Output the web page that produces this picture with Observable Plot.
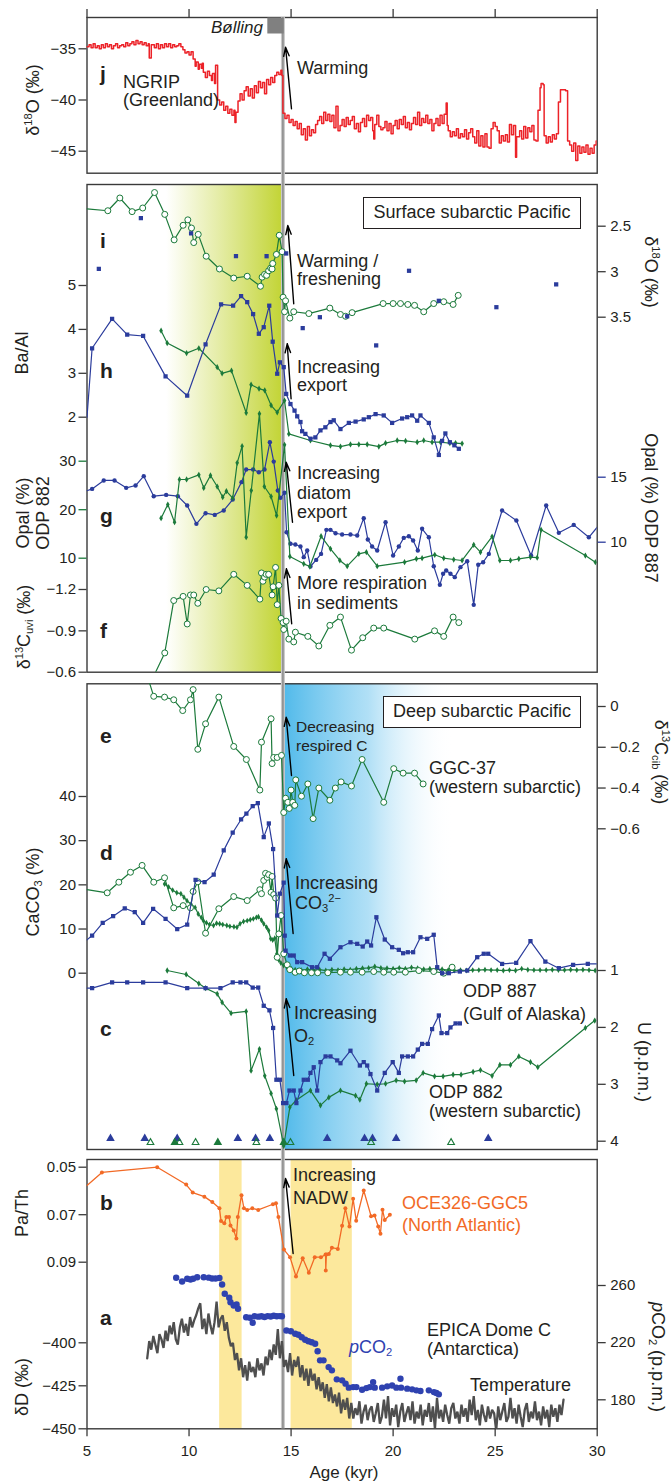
<!DOCTYPE html>
<html><head><meta charset="utf-8">
<script src="https://cdn.jsdelivr.net/npm/d3@7"></script>
<script src="https://cdn.jsdelivr.net/npm/@observablehq/plot@0.6"></script>
<style>
body{margin:0;background:#fff;}
#chart{position:relative;width:672px;height:1482px;font-family:"Liberation Sans",Arial,Helvetica,sans-serif;color:#231f20;overflow:hidden;background:#fff}
#chart svg{position:absolute;left:0;top:0;overflow:visible}
.t{position:absolute;white-space:nowrap;line-height:1;transform:translateY(-50%);font-size:18px}
.s{font-size:15.5px}
.L{position:absolute;font-weight:bold;font-size:21px;line-height:1;transform:translateY(-50%)}
.r{position:absolute;white-space:nowrap;line-height:1;font-size:18px;text-align:center}
.box{position:absolute;border:1.5px solid #231f20;background:#fff;font-size:18px;display:flex;align-items:center;justify-content:center;box-sizing:border-box}
sup{font-size:0.62em;vertical-align:0.6em;line-height:0}
sub{font-size:0.62em;vertical-align:-0.3em;line-height:0}
</style></head>
<body><div id="chart"></div>
<script>
// ---------------- DATA ----------------
const xTicks = [5, 10, 15, 20, 25, 30];
// j: NGRIP d18O
const ngrip = [[5.0,-34.8],[5.1,-34.6],[5.2,-34.9],[5.3,-34.5],[5.4,-34.9],[5.5,-34.7],[5.6,-35.0],[5.7,-34.6],[5.8,-34.9],[5.9,-34.5],[6.0,-34.8],[6.1,-34.6],[6.2,-35.0],[6.3,-34.7],[6.4,-34.5],[6.5,-34.9],[6.6,-34.7],[6.7,-34.6],[6.8,-34.8],[6.9,-34.4],[7.0,-34.7],[7.1,-34.5],[7.2,-34.3],[7.3,-34.6],[7.4,-34.2],[7.5,-34.5],[7.6,-34.3],[7.7,-34.6],[7.8,-34.4],[7.9,-34.7],[8.0,-34.5],[8.05,-35.9],[8.15,-34.6],[8.3,-34.9],[8.4,-34.5],[8.5,-35.0],[8.6,-34.6],[8.7,-34.9],[8.8,-34.5],[8.9,-34.8],[9.0,-34.5],[9.1,-34.9],[9.2,-34.6],[9.3,-34.8],[9.4,-34.7],[9.5,-34.5],[9.6,-34.8],[9.7,-35.1],[9.8,-35.4],[9.9,-35.3],[10.0,-35.6],[10.1,-35.3],[10.2,-36.0],[10.3,-36.7],[10.35,-36.3],[10.45,-37.0],[10.5,-36.5],[10.6,-36.9],[10.65,-36.4],[10.7,-37.3],[10.8,-37.8],[10.9,-37.2],[11.0,-37.6],[11.1,-38.1],[11.15,-37.4],[11.25,-38.4],[11.3,-36.6],[11.4,-40.0],[11.5,-40.5],[11.6,-40.2],[11.7,-41.0],[11.8,-40.6],[11.9,-41.3],[12.0,-40.9],[12.1,-41.5],[12.2,-41.0],[12.25,-42.2],[12.3,-41.2],[12.4,-40.1],[12.5,-39.4],[12.6,-40.0],[12.7,-39.1],[12.8,-38.7],[12.9,-39.6],[13.0,-38.9],[13.1,-39.8],[13.2,-38.6],[13.3,-39.3],[13.4,-38.2],[13.5,-38.8],[13.6,-38.3],[13.7,-39.4],[13.8,-38.0],[13.9,-38.5],[14.0,-37.8],[14.1,-38.3],[14.2,-37.6],[14.3,-37.3],[14.4,-37.5],[14.5,-37.1],[14.55,-37.6],[14.6,-41.3],[14.7,-41.8],[14.8,-41.5],[14.9,-42.2],[15.0,-41.9],[15.1,-42.5],[15.2,-42.1],[15.3,-42.8],[15.4,-42.3],[15.5,-43.4],[15.6,-42.8],[15.7,-43.9],[15.8,-42.6],[15.9,-43.5],[16.0,-42.9],[16.1,-43.2],[16.2,-42.4],[16.3,-42.0],[16.4,-41.6],[16.5,-42.3],[16.6,-41.2],[16.7,-42.0],[16.8,-41.4],[16.9,-42.1],[17.0,-41.5],[17.1,-42.7],[17.2,-40.6],[17.3,-43.0],[17.4,-42.5],[17.5,-41.9],[17.6,-42.6],[17.7,-41.7],[17.8,-42.4],[17.9,-42.0],[18.0,-41.6],[18.1,-42.8],[18.2,-42.3],[18.3,-43.1],[18.4,-42.2],[18.5,-41.8],[18.6,-42.6],[18.7,-41.5],[18.8,-42.0],[18.9,-41.7],[19.0,-43.0],[19.05,-43.8],[19.1,-42.4],[19.2,-41.5],[19.3,-42.6],[19.4,-42.9],[19.5,-42.7],[19.6,-42.1],[19.7,-43.0],[19.8,-42.3],[19.9,-43.3],[20.0,-42.5],[20.1,-42.0],[20.2,-42.8],[20.3,-41.9],[20.4,-42.4],[20.5,-41.6],[20.6,-42.7],[20.7,-42.2],[20.8,-42.9],[20.9,-42.3],[21.0,-41.7],[21.1,-42.4],[21.2,-41.2],[21.3,-42.5],[21.4,-41.8],[21.5,-42.2],[21.6,-41.5],[21.7,-42.3],[21.8,-41.9],[21.9,-43.0],[22.0,-42.3],[22.1,-41.8],[22.2,-42.5],[22.3,-41.5],[22.4,-42.3],[22.5,-41.4],[22.6,-40.3],[22.65,-42.5],[22.7,-43.0],[22.8,-43.6],[22.9,-43.1],[23.0,-43.5],[23.1,-42.8],[23.2,-43.7],[23.3,-43.3],[23.4,-43.6],[23.5,-42.9],[23.6,-43.8],[23.7,-43.2],[23.8,-42.8],[23.9,-43.6],[24.0,-44.2],[24.1,-43.0],[24.2,-44.5],[24.3,-43.5],[24.4,-44.6],[24.5,-43.3],[24.6,-44.6],[24.7,-44.7],[24.8,-42.8],[24.9,-42.2],[25.0,-42.6],[25.1,-43.0],[25.2,-44.2],[25.3,-43.5],[25.4,-44.0],[25.5,-43.4],[25.6,-44.1],[25.7,-42.4],[25.8,-43.4],[25.9,-42.5],[26.0,-45.6],[26.05,-43.6],[26.2,-43.0],[26.3,-43.8],[26.4,-42.6],[26.5,-43.7],[26.6,-42.7],[26.7,-43.1],[26.8,-42.5],[26.9,-43.9],[27.0,-44.0],[27.1,-41.0],[27.2,-38.8],[27.25,-38.4],[27.35,-38.5],[27.4,-43.5],[27.5,-44.2],[27.6,-43.6],[27.7,-44.1],[27.8,-43.4],[27.9,-43.8],[28.0,-43.3],[28.1,-40.2],[28.2,-39.0],[28.3,-39.0],[28.45,-39.1],[28.55,-44.0],[28.65,-44.4],[28.75,-45.0],[28.85,-44.2],[28.95,-45.9],[29.05,-44.5],[29.15,-45.2],[29.25,-44.6],[29.35,-45.1],[29.45,-44.4],[29.55,-45.3],[29.65,-44.7],[29.75,-45.2],[29.85,-44.4],[29.95,-44.0],[30.0,-44.0]];
// i: d18O (right axis)
const iGreen = [[5.0,2.31],[6.02,2.33],[6.61,2.19],[7.21,2.34],[7.73,2.30],[8.31,2.13],[8.81,2.37],[9.27,2.65],[9.71,2.49],[9.94,2.43],[10.12,2.52],[10.23,2.68],[10.45,2.59],[10.84,2.83],[11.49,2.97],[12.19,3.07],[12.85,3.05],[13.5,3.16],[13.58,3.06],[13.7,3.03],[13.8,3.04],[13.9,2.99],[14.0,2.96],[14.07,2.97],[14.1,2.91],[14.28,2.81],[14.42,2.60],[14.56,2.78],[14.61,3.28],[14.68,3.44],[14.73,3.32],[14.94,3.51],[15.13,3.44],[15.87,3.46],[16.9,3.40],[17.42,3.47],[17.67,3.49],[17.99,3.45],[19.51,3.35],[20.0,3.35],[20.36,3.35],[20.72,3.36],[21.05,3.37],[21.5,3.44],[21.99,3.35],[22.48,3.33],[22.94,3.36],[23.19,3.26]];
const iBlue = [[5.58,2.97],[7.64,2.41],[10.1,2.58],[12.3,2.83],[13.8,2.83],[14.76,2.80],[15.57,3.62],[16.41,3.50],[17.75,3.49],[19.17,3.81],[20.78,2.99],[22.24,3.32],[25.06,3.39],[27.99,3.14]];
// h: Ba/Al
const hBlue = [[5.0,2.0],[5.25,3.57],[6.23,4.24],[6.97,3.88],[7.75,3.85],[8.85,2.93],[9.91,2.49],[10.81,3.66],[11.57,4.57],[12.16,4.54],[12.55,4.76],[12.85,4.62],[13.14,4.35],[13.42,3.90],[13.66,4.05],[13.93,4.54],[14.1,3.72],[14.32,2.99],[14.45,3.25],[14.64,3.14],[14.76,2.53],[14.97,2.30],[15.17,2.15],[15.3,2.02],[15.46,1.89],[15.54,1.68],[15.7,1.62],[15.95,1.51],[16.19,1.54],[16.44,1.70],[16.68,1.77],[16.93,1.89],[17.09,1.93],[17.42,1.73],[17.83,1.87],[18.16,1.90],[18.56,1.95],[18.81,2.0],[19.14,2.07],[19.54,2.04],[19.95,1.87],[20.44,1.97],[20.69,2.0],[20.93,2.04],[21.18,1.92],[21.34,2.04],[21.75,1.87],[21.99,1.54],[22.24,1.14],[22.4,1.46],[22.56,1.63],[22.78,1.43],[23.0,1.36],[23.22,1.28]];
const hGreen = [[8.63,3.97],[8.93,3.69],[9.88,3.46],[10.48,3.57],[11.38,3.14],[11.62,3.00],[12.08,3.06],[12.8,2.1],[13.04,2.74],[13.43,2.65],[13.71,2.61],[14.02,2.27],[14.32,2.11],[14.68,2.38],[14.89,1.62],[15.95,1.47],[16.93,1.36],[17.42,1.33],[17.91,1.38],[18.32,1.38],[18.73,1.38],[19.3,1.33],[19.63,1.41],[20.2,1.47],[20.61,1.46],[21.18,1.43],[21.5,1.47],[21.91,1.43],[22.32,1.43],[22.78,1.41],[23.06,1.41],[23.38,1.40]];
// g: opal
const gGreen = [[8.63,18.25],[8.96,21.07],[9.29,17.43],[9.53,26.23],[9.88,26.23],[10.48,27.19],[10.72,24.5],[11.05,27.05],[11.38,24.78],[11.65,22.58],[11.83,23.81],[12.14,22.37],[12.36,29.66],[12.6,33.1],[12.8,14.33],[13.05,23.96],[13.45,39.8],[13.69,24.78],[14.02,22.72],[14.29,18.8],[14.68,33.38],[14.94,10.35],[15.62,8.84],[15.92,8.29],[16.47,14.53],[16.93,11.94],[17.39,9.53],[17.75,8.35],[18.32,10.9],[18.69,11.24],[19.22,8.35],[20.56,9.18],[21.14,9.87],[21.42,10.0],[22.04,10.7],[22.48,10.0],[22.97,9.73],[23.38,9.53],[23.95,12.76],[24.28,11.24],[24.85,14.47],[25.23,9.53],[25.75,9.53],[26.16,9.87],[26.73,10.21],[27.06,10.1],[27.25,15.85],[29.42,10.55],[29.91,9.18]];
const gBlue = [[5.0,13.96],[5.25,14.1],[5.82,14.75],[6.35,14.75],[6.92,14.18],[7.38,14.36],[7.78,15.08],[8.27,13.54],[8.88,13.64],[9.45,13.54],[9.91,12.82],[10.36,11.41],[10.81,12.23],[11.26,12.1],[11.7,12.44],[12.14,13.28],[12.57,14.62],[12.8,15.59],[13.14,15.59],[13.42,15.38],[13.7,15.59],[13.96,17.69],[14.15,16.2],[14.35,13.98],[14.48,13.41],[14.68,13.8],[14.78,10.77],[14.97,9.88],[15.21,9.82],[15.46,9.67],[15.62,8.85],[15.79,9.36],[15.95,8.13],[16.23,8.64],[16.47,9.1],[16.73,10.95],[16.93,10.95],[17.18,10.69],[17.5,10.59],[17.91,10.59],[18.24,10.51],[18.56,11.85],[18.76,10.21],[18.97,9.67],[19.22,9.36],[19.63,11.54],[20.0,8.98],[20.28,9.67],[20.52,10.33],[20.77,10.46],[20.98,10.13],[21.21,9.36],[21.42,11.03],[21.75,10.38],[21.99,8.15],[22.29,6.72],[22.45,7.57],[22.6,7.82],[22.81,7.57],[23.02,7.31],[23.3,8.08],[23.63,8.54],[23.95,5.18],[24.17,8.26],[24.41,8.46],[24.69,9.1],[25.34,12.44],[26.04,11.67],[26.76,8.98],[27.5,12.82],[28.12,10.72],[28.85,11.33],[29.59,10.38],[30.0,11.15]];
// f: d13C uvigerina
const fGreen = [[8.36,-0.6],[8.81,-0.74],[9.25,-1.12],[9.71,-1.15],[9.91,-0.95],[10.07,-1.16],[10.23,-1.16],[10.43,-1.10],[10.84,-1.2],[11.46,-1.19],[12.19,-1.31],[12.85,-1.23],[13.47,-1.13],[13.55,-1.32],[13.62,-1.26],[13.7,-1.29],[13.78,-1.31],[13.9,-1.31],[14.07,-1.16],[14.12,-1.22],[14.24,-1.36],[14.32,-1.09],[14.4,-1.23],[14.51,-0.99],[14.61,-0.96],[14.64,-0.91],[14.76,-0.97],[14.89,-0.84],[15.13,-0.82],[15.21,-0.89],[15.82,-0.86],[16.36,-0.79],[16.9,-0.94],[17.42,-1.0],[17.96,-0.76],[18.51,-0.85],[19.05,-0.92],[19.54,-0.92],[21.06,-0.84],[22.03,-0.9],[22.48,-0.86],[22.94,-1.0],[23.22,-0.96]];
// e: d13C cibicidoides
const eGreen = [[8.05,0.12],[8.27,0.05],[8.8,0.046],[9.25,0.033],[9.69,-0.02],[10.07,0.033],[10.2,0.083],[10.43,-0.21],[10.81,-0.085],[11.46,0.046],[12.19,-0.196],[12.81,-0.26],[13.47,-0.41],[13.55,-0.175],[14.02,-0.06],[14.07,-0.28],[14.15,-0.25],[14.32,-0.25],[14.53,-0.24],[14.64,-0.52],[14.73,-0.45],[14.84,-0.47],[14.91,-0.50],[15.0,-0.41],[15.08,-0.47],[15.18,-0.485],[15.23,-0.36],[15.51,-0.44],[15.82,-0.38],[16.08,-0.55],[16.36,-0.40],[16.9,-0.46],[17.17,-0.40],[17.45,-0.37],[17.96,-0.39],[18.48,-0.26],[19.54,-0.47],[20.03,-0.305],[20.49,-0.327],[21.05,-0.327],[21.47,-0.38]];
// d: CaCO3
const dBlue = [[5.0,7.55],[5.25,8.53],[5.77,11.4],[6.28,12.9],[6.85,14.7],[7.34,13.8],[7.75,11.4],[8.24,14.57],[8.85,12.3],[9.42,10.0],[9.91,11.0],[10.32,21.1],[10.76,20.6],[11.21,22.3],[11.7,27.8],[12.14,31.8],[12.55,34.8],[12.81,36.1],[13.12,37.8],[13.37,38.5],[13.66,30.8],[13.91,33.9],[14.12,28.1],[14.32,13.05],[14.45,18.0],[14.64,20.5],[14.69,8.5],[14.73,5.1],[14.94,4.0],[15.13,4.0],[15.3,2.5],[15.54,2.5],[16.03,1.36],[16.28,1.36],[16.64,4.4],[16.9,3.26],[17.42,5.88],[17.91,7.0],[18.24,6.65],[18.51,6.04],[18.73,7.17],[18.92,6.27],[19.18,12.67],[19.59,7.62],[19.95,5.88],[20.28,5.29],[20.49,4.52],[20.72,4.75],[20.98,4.75],[21.34,8.14],[21.67,7.78],[21.99,8.7],[22.16,1.36],[22.4,0],[22.73,0],[23.27,0.38],[23.63,0.6],[24.12,3.62],[24.44,4.4],[24.66,4.4],[25.34,2.1],[26.03,2.35],[26.73,7.24],[27.46,2.64],[28.12,1.13],[28.82,1.9],[29.54,2.1],[30.0,2.1]];
const dCircles = [[5.0,18.9],[5.99,18.2],[6.56,20.6],[7.13,22.85],[7.7,24.4],[8.27,20.6],[8.8,21.6],[9.25,14.8],[9.71,15.3],[10.07,14.8],[10.2,18.5],[10.43,20.7],[10.81,9.05],[11.46,14.6],[12.19,17.35],[12.85,16.45],[13.47,18.9],[13.55,18.0],[13.66,21.0],[13.75,22.6],[13.83,21.7],[13.9,22.3],[14.02,18.3],[14.07,21.9],[14.15,17.8],[14.24,17.0],[14.32,3.6],[14.4,8.9],[14.51,13.05],[14.64,4.4],[14.81,1.9],[14.94,0.8],[15.2,0.2],[15.4,0.5],[15.65,0.1],[16.0,0.1],[16.3,0.1],[16.8,0.1],[17.42,0.23],[17.91,0.23],[18.48,0.23],[19.05,0.38],[19.54,0.23],[20.03,0.23],[20.6,0.23],[21.26,0.6],[21.99,0.38],[22.48,0],[22.89,1.36]];
const dSmall = [[8.8,20.2],[9.0,19.5],[9.2,18.8],[9.4,18.2],[9.6,18.0],[9.75,17.2],[9.9,16.4],[10.1,15.6],[10.3,14.9],[10.45,13.4],[10.6,12.6],[10.7,11.9],[10.85,11.4],[11.0,11.0],[11.2,10.8],[11.35,11.3],[11.5,11.2],[11.65,11.0],[11.85,10.8],[12.0,10.6],[12.2,10.5],[12.35,10.4],[12.5,11.2],[12.67,11.7],[12.85,11.9],[13.0,12.1],[13.15,12.3],[13.3,12.6],[13.4,12.8],[13.55,12.0],[13.66,11.2],[13.8,10.4],[13.9,9.66],[14.0,7.8],[14.1,7.5],[14.2,7.9],[14.3,4.4],[14.4,3.0],[14.5,2.3],[14.64,1.74],[14.8,1.3],[15.0,1.0],[15.2,0.8],[15.5,0.7],[15.8,0.9],[16.1,0.7],[16.4,0.8],[16.7,0.6],[17.0,0.8],[17.3,0.7],[17.6,0.9],[17.9,0.8],[18.2,1.0],[18.5,1.1],[18.8,1.2],[19.1,1.5],[19.4,1.2],[19.7,1.1],[20.0,1.0],[20.3,1.2],[20.6,1.0],[20.9,1.3],[21.2,1.1],[21.5,0.9],[21.8,1.0],[22.1,0.8],[22.4,0.9],[22.7,0.7],[23.0,0.6],[23.3,0.7],[23.6,0.6],[23.9,0.7],[24.2,0.7],[24.5,0.8],[24.8,0.7],[25.1,0.7],[25.4,0.6],[25.7,0.7],[26.0,0.6],[26.3,1.0],[26.6,0.8],[26.9,0.7],[27.2,0.7],[27.5,0.7],[27.8,0.8],[28.1,0.7],[28.4,0.7],[28.7,0.8],[29.0,0.7],[29.3,0.8],[29.6,0.7],[29.9,0.6]];
// c: U (ppm)
const cBlue = [[5.0,1.31],[5.25,1.31],[6.23,1.21],[6.97,1.21],[7.75,1.21],[8.85,1.21],[9.91,1.31],[10.81,1.31],[11.54,1.31],[12.14,1.21],[12.52,1.21],[12.8,1.21],[13.12,1.30],[13.39,1.30],[13.66,1.62],[13.94,1.70],[14.12,2.01],[14.28,2.92],[14.45,2.92],[14.61,3.33],[14.77,3.33],[14.92,3.11],[15.13,3.11],[15.26,3.33],[15.46,3.11],[15.62,2.92],[15.82,2.92],[15.95,2.80],[16.11,2.70],[16.28,3.11],[16.44,2.61],[16.69,2.51],[16.93,2.51],[17.26,2.58],[17.42,2.63],[17.91,2.41],[18.37,2.67],[18.56,2.61],[18.73,2.67],[18.89,2.82],[19.22,3.11],[19.59,2.80],[19.98,2.61],[20.28,2.80],[20.44,2.51],[20.72,2.51],[20.98,2.51],[21.21,2.39],[21.42,2.29],[21.7,2.29],[21.91,2.03],[22.24,1.79],[22.37,2.10],[22.65,2.10],[22.81,2.0],[23.06,1.93],[23.27,1.93]];
const cGreen = [[8.93,1.0],[9.86,1.07],[10.48,1.23],[10.81,1.31],[11.38,1.41],[11.62,1.56],[12.06,1.75],[12.8,1.72],[13.04,2.76],[13.45,2.38],[13.71,2.85],[14.02,3.16],[14.28,3.43],[14.64,4.08],[14.94,3.40],[15.25,3.28],[15.95,3.11],[16.44,3.37],[16.85,3.23],[17.42,3.11],[18.16,3.20],[18.37,3.27],[18.69,2.99],[19.22,3.0],[19.63,2.99],[20.15,2.93],[20.56,2.95],[21.13,2.93],[21.47,2.80],[22.03,2.86],[22.45,2.86],[22.94,2.83],[23.33,2.83],[23.92,2.78],[24.28,2.75],[24.85,2.85],[25.23,2.66],[25.75,2.66],[26.16,2.51],[26.73,2.61],[27.09,2.70],[29.42,2.01],[29.88,1.88]];
const triBlue = [6.15, 7.83, 9.42, 12.39, 13.26, 13.96, 16.77, 18.6, 18.99, 20.15, 24.66];
const triGreenOpen = [8.11, 9.53, 10.32, 13.3, 14.97, 18.92, 22.84];
const triGreenFilled = [9.3, 11.41, 14.64];
// b: Pa/Th
const paTh = [[5.0,0.0577],[5.73,0.0522],[8.44,0.050],[9.86,0.0573],[10.18,0.0607],[10.75,0.0624],[11.14,0.0647],[11.49,0.0673],[11.57,0.0727],[11.73,0.0736],[11.83,0.071],[11.96,0.071],[12.03,0.0745],[12.19,0.0766],[12.32,0.080],[12.39,0.071],[12.57,0.0618],[12.69,0.0673],[12.85,0.068],[13.1,0.0673],[13.39,0.068],[14.11,0.0656],[14.26,0.0652],[14.38,0.071],[14.65,0.0847],[14.95,0.0879],[15.24,0.096],[15.57,0.0883],[15.87,0.0944],[16.16,0.0879],[16.46,0.0879],[16.69,0.0868],[16.7,0.0935],[16.73,0.0868],[16.85,0.0865],[17.0,0.0839],[17.29,0.0844],[17.5,0.0746],[17.66,0.0673],[17.86,0.0750],[18.04,0.0633],[18.19,0.0725],[18.56,0.0598],[18.92,0.0706],[19.09,0.0703],[19.27,0.0750],[19.38,0.078],[19.48,0.0679],[19.59,0.0722],[19.84,0.070]];
// a: pCO2 (ppm)
const co2 = [[9.37,265.4],[9.66,262.8],[9.91,264.7],[10.07,264.2],[10.2,264.7],[10.4,265.8],[10.72,265.8],[10.97,265.5],[11.13,264.9],[11.3,264.9],[11.49,265.2],[11.62,260.7],[11.75,254.2],[11.97,251.4],[12.03,248.3],[12.19,246],[12.33,246.7],[12.4,243.7],[12.8,237.8],[12.98,237.4],[13.12,233.9],[13.21,238.5],[13.4,238.2],[13.55,238.5],[13.7,238.0],[13.85,238.6],[14.0,238.3],[14.15,238.8],[14.3,238.5],[14.45,238.6],[14.55,238.5],[14.77,228.5],[14.99,228],[15.2,226.2],[15.36,225.5],[15.52,223.8],[15.69,222],[15.85,221],[16.01,220.3],[16.18,219.2],[16.3,214],[16.42,207.6],[16.59,207.6],[16.84,202.9],[17.0,200.6],[17.24,194.3],[17.5,193.6],[17.67,191.3],[17.83,188.5],[18.04,188.9],[18.2,188.9],[18.48,187],[18.69,188.2],[18.86,188.9],[19.02,192.4],[19.1,188.5],[19.46,188.5],[19.71,189.4],[19.95,190],[20.16,188.5],[20.36,194.7],[20.39,188.5],[20.69,187.8],[20.93,187.3],[21.14,186.6],[21.34,186.2],[21.75,186.6],[22.0,185.4],[22.12,184.8],[22.24,183.8]];
// a: EPICA dD, sampled every 0.1 kyr from 7.95 kyr
const dDStart = 7.95, dDStep = 0.1;
const dDValues = [-409,-399,-404,-396,-401,-406,-395,-398,-403,-393,
-399,-390,-395,-388,-398,-401,-391,-386,-394,-389,
-396,-385,-391,-387,-384,-380,-377,-392,-386,-395,
-383,-390,-395,-388,-376,-391,-386,-384,-393,-388,
-397,-402,-400,-410,-406,-416,-409,-420,-413,-422,
-411,-417,-414,-420,-409,-416,-412,-419,-408,-413,
-404,-410,-401,-407,-392,-409,-399,-414,-410,-417,
-406,-419,-410,-414,-408,-420,-413,-422,-415,-425,
-415,-422,-418,-427,-420,-428,-423,-432,-424,-434,
-426,-435,-430,-437,-429,-441,-433,-439,-432,-444,
-435,-444,-438,-442,-434,-447,-440,-436,-445,-439,
-437,-446,-441,-435,-447,-443,-433,-444,-431,-448,
-438,-443,-436,-449,-440,-435,-446,-441,-437,-445,
-434,-447,-440,-444,-436,-448,-439,-443,-435,-446,
-437,-450,-432,-444,-439,-446,-436,-442,-447,-438,
-435,-444,-440,-447,-436,-443,-438,-446,-433,-442,
-431,-445,-439,-448,-436,-442,-446,-437,-444,-439,
-441,-451,-437,-445,-440,-435,-446,-443,-432,-444,
-438,-447,-436,-443,-449,-439,-435,-446,-440,-444,
-434,-445,-440,-448,-437,-444,-439,-449,-436,-443,
-438,-446,-436,-442,-433];
// shaded intervals (kyr)
const greenShade = [[8.9, 14.6]];
const blueShade = [[14.6, 23.0]];
const yellowBands = [[11.5, 12.6], [15.0, 18.0]];
const bolling = [[13.86, 14.66]];
const transitionAge = [14.6];

// ---------------- LAYOUT ----------------
const chart = document.getElementById("chart");
const W = 672, H = 1482, XL = 86.5, XR = 596.7;
const FONT = '"Liberation Sans", Arial, Helvetica, sans-serif';
const INK = "#231f20", FRAME = "#3a3a3a";
const GREEN = "#1c7a3b", BLUE = "#2b3c9c", ORANGE = "#f26a26", RED = "#ec2228", GREY = "#4f4f4f", CO2BLUE = "#2f42b0";
const minus = d => String(d).replace("-", "\u2212");
const P = {
  j: {top: 17, bottom: 172.7},
  s: {top: 184, bottom: 671.7},
  d: {top: 683.3, bottom: 1149},
  b: {top: 1159, bottom: 1428.3},
  page: {top: 0, bottom: H}
};
const X = d => d[0], Y = d => d[1];

function layer(p, yOpt, marks) {
  const svg = Plot.plot({
    width: W, height: H,
    marginLeft: XL, marginRight: W - XR, marginTop: p.top, marginBottom: H - p.bottom,
    x: {domain: [5, 30], axis: null},
    y: yOpt ? yOpt : {domain: [0, 1], axis: null},
    style: {background: "transparent", fontFamily: FONT, fontSize: "15px", color: INK, overflow: "visible"},
    marks
  });
  svg.style.position = "absolute"; svg.style.left = "0px"; svg.style.top = "0px";
  chart.appendChild(svg);
  return svg;
}
function addGradient(svg, id, stops) {
  const defs = d3.select(svg).insert("defs", ":first-child");
  const g = defs.append("linearGradient").attr("id", id).attr("x1", "0").attr("x2", "1").attr("y1", "0").attr("y2", "0");
  for (const [o, c, a] of stops) g.append("stop").attr("offset", o).attr("stop-color", c).attr("stop-opacity", a);
}
const yAx = (ticks, anchor, extra = {}) => Plot.axisY(ticks, {anchor, tickSize: 8, tickPadding: anchor === "left" ? 3 : 5, tickFormat: minus, fontSize: 15, stroke: FRAME, strokeWidth: 1.3, label: null, ...extra});
const frame = () => Plot.frame({stroke: FRAME, strokeWidth: 1.4});

// ---- bases (backgrounds + frames)
layer(P.j, null, [frame(), Plot.axisX(xTicks, {anchor: "top", tickSize: 9, tickFormat: () => "", stroke: FRAME, strokeWidth: 1.3, label: null})]);
const sBase = layer(P.s, null, [Plot.rect(greenShade, {x1: X, x2: Y, fill: "url(#shadeGreen)"}), frame()]);
addGradient(sBase, "shadeGreen", [["0", "#c5d63c", 0], ["0.45", "#c5d63c", 0.45], ["1", "#c2d434", 1]]);
const dBase = layer(P.d, null, [Plot.rect(blueShade, {x1: X, x2: Y, fill: "url(#shadeBlue)"}), frame()]);
addGradient(dBase, "shadeBlue", [["0", "#4fb9ea", 1], ["0.5", "#8fd2f2", 0.7], ["1", "#ffffff", 0]]);
layer(P.b, null, [
  Plot.rect(yellowBands, {x1: X, x2: Y, fill: "#fce89c"}),
  frame(),
  Plot.axisX(xTicks, {anchor: "bottom", tickSize: 8, tickPadding: 9, fontSize: 15, stroke: FRAME, strokeWidth: 1.3, label: null})
]);
// ---- transition line
layer(P.page, {domain: [0, H], range: [0, H], axis: null}, [
  Plot.ruleX(transitionAge, {y1: 17, y2: 1428.3, stroke: "#c8c8c8", strokeWidth: 4}),
  Plot.ruleX(transitionAge, {y1: 17, y2: 1428.3, stroke: "#8e8e8e", strokeWidth: 1.6})
]);

// ---- j: NGRIP
layer(P.j, {domain: [-35, -45], range: [48.3, 150.7]}, [
  yAx([-35, -40, -45], "left"),
  Plot.line(ngrip, {x: X, y: Y, curve: "step-after", stroke: RED, strokeWidth: 1.5, clip: true})
]);

// ---- surface panel
layer(P.s, {domain: [2.5, 3.5], range: [225.7, 316.7]}, [
  yAx([2.5, 3, 3.5], "right"),
  Plot.line(iGreen, {x: X, y: Y, stroke: GREEN, strokeWidth: 1.2, clip: true}),
  Plot.dot(iGreen.filter(d => d[0] > 5.05), {x: X, y: Y, r: 3, fill: "white", stroke: GREEN, strokeWidth: 1, clip: true}),
  Plot.dot(iBlue, {x: X, y: Y, symbol: "square", r: 2.4, fill: BLUE, clip: true})
]);
layer(P.s, {domain: [5, 2], range: [285, 416.7]}, [
  yAx([5, 4, 3, 2], "left"),
  Plot.line(hGreen, {x: X, y: Y, stroke: GREEN, strokeWidth: 1.2, clip: true}),
  Plot.dot(hGreen, {x: X, y: Y, symbol: "diamond", r: 1.9, fill: GREEN, clip: true}),
  Plot.line(hBlue, {x: X, y: Y, stroke: BLUE, strokeWidth: 1.2, clip: true}),
  Plot.dot(hBlue.filter(d => d[0] > 5.05), {x: X, y: Y, symbol: "square", r: 2.4, fill: BLUE, clip: true})
]);
layer(P.s, {domain: [15, 10], range: [476.7, 541.7]}, [
  yAx([15, 10], "right", {stroke: BLUE}),
  Plot.line(gBlue, {x: X, y: Y, stroke: BLUE, strokeWidth: 1.2, clip: true}),
  Plot.dot(gBlue.filter(d => d[0] > 5.05 && d[0] < 29.95), {x: X, y: Y, r: 2.2, fill: BLUE, clip: true})
]);
layer(P.s, {domain: [30, 10], range: [460.7, 557.7]}, [
  yAx([30, 20, 10], "left", {stroke: GREEN}),
  Plot.line(gGreen, {x: X, y: Y, stroke: GREEN, strokeWidth: 1.2, clip: true}),
  Plot.dot(gGreen, {x: X, y: Y, symbol: "diamond", r: 1.9, fill: GREEN, clip: true})
]);
layer(P.s, {domain: [-1.2, -0.6], range: [589, 671.7]}, [
  yAx([-1.2, -0.9, -0.6], "left"),
  Plot.line(fGreen, {x: X, y: Y, stroke: GREEN, strokeWidth: 1.2, clip: true}),
  Plot.dot(fGreen.slice(1), {x: X, y: Y, r: 3, fill: "white", stroke: GREEN, strokeWidth: 1, clip: true})
]);

// ---- deep panel
layer(P.d, {domain: [0, -0.6], range: [706, 828.3]}, [
  yAx([0, -0.2, -0.4, -0.6], "right"),
  Plot.line(eGreen, {x: X, y: Y, stroke: GREEN, strokeWidth: 1.2, clip: true}),
  Plot.dot(eGreen.slice(1), {x: X, y: Y, r: 3, fill: "white", stroke: GREEN, strokeWidth: 1, clip: true})
]);
layer(P.d, {domain: [40, 0], range: [796, 972.7]}, [
  yAx([40, 30, 20, 10, 0], "left"),
  Plot.line(dSmall, {x: X, y: Y, stroke: GREEN, strokeWidth: 1.2, clip: true}),
  Plot.dot(dSmall, {x: X, y: Y, symbol: "diamond", r: 1.8, fill: GREEN, clip: true}),
  Plot.line(dCircles, {x: X, y: Y, stroke: GREEN, strokeWidth: 1.2, clip: true}),
  Plot.dot(dCircles.filter(d => d[0] > 5.05), {x: X, y: Y, r: 3, fill: "white", stroke: GREEN, strokeWidth: 1, clip: true}),
  Plot.line(dBlue, {x: X, y: Y, stroke: BLUE, strokeWidth: 1.2, clip: true}),
  Plot.dot(dBlue.filter(d => d[0] > 5.05 && d[0] < 29.95), {x: X, y: Y, symbol: "square", r: 2.4, fill: BLUE, clip: true})
]);
layer(P.d, {domain: [1, 4], range: [970, 1140.7]}, [
  yAx([1, 2, 3, 4], "right"),
  Plot.line(cGreen, {x: X, y: Y, stroke: GREEN, strokeWidth: 1.2, clip: true}),
  Plot.dot(cGreen, {x: X, y: Y, symbol: "diamond", r: 1.9, fill: GREEN, clip: true}),
  Plot.line(cBlue, {x: X, y: Y, stroke: BLUE, strokeWidth: 1.2, clip: true}),
  Plot.dot(cBlue.filter(d => d[0] > 5.05), {x: X, y: Y, symbol: "square", r: 2.4, fill: BLUE, clip: true}),
  Plot.dot(triBlue, {x: d => d, frameAnchor: "bottom", dy: -11, symbol: "triangle", r: 3.2, fill: BLUE}),
  Plot.dot(triGreenFilled, {x: d => d, frameAnchor: "bottom", dy: -7, symbol: "triangle", r: 3.2, fill: GREEN}),
  Plot.dot(triGreenOpen, {x: d => d, frameAnchor: "bottom", dy: -7, symbol: "triangle2", r: 3.2, stroke: GREEN, strokeWidth: 1.1})
]);

// ---- b / a panel
layer(P.b, {domain: [-400, -450], range: [1342.3, 1428.3]}, [
  yAx([-400, -425, -450], "left"),
  Plot.line(dDValues, {x: (d, i) => dDStart + i * dDStep, y: d => d, stroke: GREY, strokeWidth: 2.3, strokeLinejoin: "miter", clip: true})
]);
layer(P.b, {domain: [260, 180], range: [1285, 1399.3]}, [
  yAx([260, 220, 180], "right"),
  Plot.dot(co2, {x: X, y: Y, r: 3.2, fill: CO2BLUE, clip: true})
]);
layer(P.b, {domain: [0.05, 0.09], range: [1166.7, 1261.7]}, [
  yAx([0.05, 0.07, 0.09], "left"),
  Plot.line(paTh, {x: X, y: Y, stroke: ORANGE, strokeWidth: 1.3, clip: true}),
  Plot.dot(paTh.slice(1), {x: X, y: Y, r: 2, fill: ORANGE, clip: true})
]);

// ---- annotation arrows (age, page-pixel y)
const arrows = [
  [15.02, 108.3, 14.73, 46.7], [15.13, 303.3, 14.84, 225], [15.0, 398.3, 14.81, 343.3],
  [15.07, 521.7, 14.76, 461.7], [15.03, 623.3, 14.77, 568.3], [15.02, 775, 14.76, 716.7],
  [15.1, 933, 14.76, 858.3], [15.13, 1075, 14.76, 998.3], [15.1, 1253, 14.73, 1178]
];
layer(P.page, {domain: [0, H], range: [0, H], axis: null}, [
  Plot.rect(bolling, {x1: X, x2: Y, y1: 17.5, y2: 33.5, fill: "#808080"}),
  Plot.arrow(arrows, {x1: d => d[0], y1: d => d[1], x2: d => d[2], y2: d => d[3], stroke: "#000", strokeWidth: 1.4, headLength: 10, headAngle: 34})
]);

// ---------------- TEXT ----------------
function t(html, x, cy, cls = "t", style = {}) {
  const d = document.createElement("div");
  d.className = cls; d.innerHTML = html;
  d.style.left = x + "px"; d.style.top = cy + "px";
  Object.assign(d.style, style);
  chart.appendChild(d);
  return d;
}
function rot(html, cx, cy, deg, style = {}) {
  const d = t(html, cx, cy, "r", style);
  d.style.transform = `translate(-50%,-50%) rotate(${deg}deg)`;
  return d;
}
function box(html, x, y, w, h) {
  const d = document.createElement("div");
  d.className = "box"; d.innerHTML = html;
  Object.assign(d.style, {left: x + "px", top: y + "px", width: w + "px", height: h + "px"});
  chart.appendChild(d);
}
// panel letters
[["j", 73], ["i", 240], ["h", 370], ["g", 515], ["f", 630], ["e", 735], ["d", 852], ["c", 1028], ["b", 1202], ["a", 1317]]
  .forEach(([l, y]) => t(l, 100, y, "L"));
// j
t("NGRIP", 123, 82); t("(Greenland)", 123, 100);
t("Warming", 297, 68);
t("Bølling", 0, 26.5, "t", {fontStyle: "italic", fontSize: "17px", left: "auto", right: (W - 263) + "px"});
// surface
box("Surface subarctic Pacific", 363.3, 196.7, 217.4, 32.6);
t("Warming /", 297, 261); t("freshening", 297, 279);
t("Increasing", 297, 367); t("export", 297, 385);
t("Increasing", 297, 473); t("diatom", 297, 492.5); t("export", 297, 511.5);
t("More respiration", 297, 583); t("in sediments", 297, 602.5);
// deep
box("Deep subarctic Pacific", 383.3, 696, 197.4, 31.7);
t("Decreasing", 296, 727, "t s"); t("respired C", 296, 746, "t s");
t("Increasing", 295, 883); t("CO<sub>3</sub><sup>2\u2212</sup>", 295, 903);
t("Increasing", 294, 1013); t("O<sub>2</sub>", 294, 1036);
t("GGC-37", 429, 768); t("(western subarctic)", 429, 787);
t("ODP 887", 463, 991); t("(Gulf of Alaska)", 463, 1014);
t("ODP 882", 429, 1092); t("(western subarctic)", 429, 1111);
// b / a
t("Increasing", 293, 1175); t("NADW", 293, 1198);
t("OCE326-GGC5", 402, 1203, "t", {color: ORANGE}); t("(North Atlantic)", 402, 1225, "t", {color: ORANGE});
t("EPICA Dome C", 427, 1330); t("(Antarctica)", 427, 1349);
t("<i>p</i>CO<sub>2</sub>", 349, 1347, "t", {color: CO2BLUE});
t("Temperature", 470, 1385);
t("Age (kyr)", 344, 1472, "t", {transform: "translate(-50%,-50%)", fontSize: "17px"});
// axis titles
rot("δ<sup>18</sup>O (‰)", 33, 100, -90);
rot("Ba/Al", 22, 353, -90);
rot("Opal (%)<br>ODP 882", 32.5, 513, -90, {lineHeight: "20px"});
rot("δ<sup>13</sup>C<sub>uvi</sub> (‰)", 24, 627, -90);
rot("CaCO<sub>3</sub> (%)", 33, 892, -90);
rot("Pa/Th", 22, 1213, -90);
rot("δD (‰)", 22, 1387, -90);
rot("δ<sup>18</sup>O (‰)", 651, 272, 90);
rot("Opal (%) ODP 887", 651, 508, 90);
rot("δ<sup>13</sup>C<sub>cib</sub> (‰)", 661, 762, 90);
rot("U (p.p.m.)", 643.5, 1062, 90);
rot("<i>p</i>CO<sub>2</sub> (p.p.m.)", 658, 1357, 90);
</script>
</body></html>
